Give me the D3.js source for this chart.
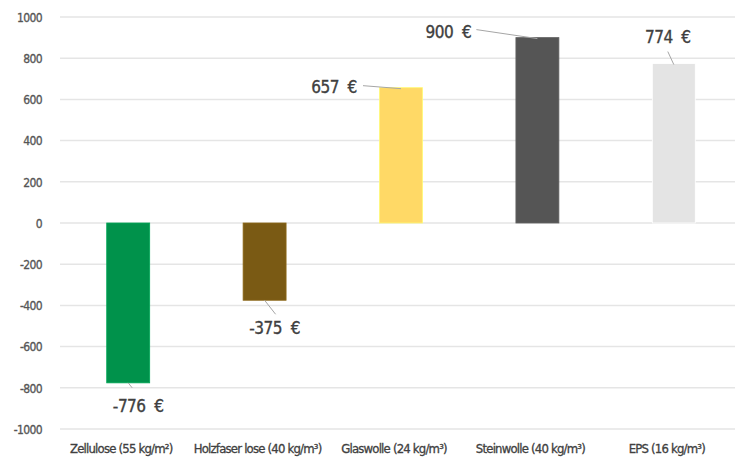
<!DOCTYPE html>
<html><head><meta charset="utf-8">
<script src="https://cdn.jsdelivr.net/npm/d3@7"></script>
<style>
html,body{margin:0;padding:0;background:#fff;}
svg text{font-family:"DejaVu Sans Condensed","DejaVu Sans",sans-serif !important;font-stretch:condensed;}
</style></head>
<body><svg id="c" width="741" height="459"></svg>
<script>
const categories = ["Zellulose (55 kg/m²)", "Holzfaser lose (40 kg/m³)", "Glaswolle (24 kg/m³)", "Steinwolle (40 kg/m³)", "EPS (16 kg/m³)"];
const values = [-776, -375, 657, 900, 774];
const colors = ["#00924B", "#7A5A14", "#FFD966", "#555555", "#E4E4E4"];
const yTicks = [1000, 800, 600, 400, 200, 0, -200, -400, -600, -800, -1000];

const fmt = v => String(v);
const svg = d3.select("#c");
const x = d3.scaleBand().domain(categories).range([60, 742]).paddingInner(0.685).paddingOuter(0.3425);
const y = d3.scaleLinear().domain([-1000, 1000]).range([429, 17]);

// gridlines
svg.append("g").selectAll("line").data(yTicks).join("line")
  .attr("x1", 60).attr("x2", 735)
  .attr("y1", d => y(d)).attr("y2", d => y(d))
  .attr("stroke", "#e5e5e5").attr("stroke-width", 1.5);

// y axis labels
const yAxis = d3.axisLeft(y).tickValues(yTicks).tickFormat(fmt).tickSize(0).tickPadding(0);
const ga = svg.append("g").attr("transform", "translate(42,0)").call(yAxis);
ga.select(".domain").remove();
ga.selectAll("text").attr("font-size", 12).attr("fill", "#555").attr("dy", "0.35em").attr("letter-spacing", -0.6)
  .attr("stroke", "#555").attr("stroke-width", 0.3);

// bars
svg.append("g").selectAll("rect").data(values).join("rect")
  .attr("x", (d, i) => x(categories[i]))
  .attr("width", x.bandwidth())
  .attr("y", d => Math.min(y(d), y(0)))
  .attr("height", d => Math.abs(y(d) - y(0)))
  .attr("fill", (d, i) => colors[i])
  .attr("stroke", (d, i) => d3.color(colors[i]).brighter(0.4))
  .attr("stroke-width", 0.8);

// value label layout (offsets relative to bar center / end)
const lab = [
  {dx: 10, dy: 29, lx1: 0, ly1: 0, lx2: 4, ly2: 5},
  {dx: 10, dy: 34, lx1: 0, ly1: 0, lx2: 11, ly2: 14},
  {dx: -67, dy: 5, lx1: 0, ly1: 1, lx2: -38, ly2: -2},
  {dx: -89, dy: 0, lx1: 0, ly1: 1, lx2: -61, ly2: -8},
  {dx: -6, dy: -21, lx1: 0, ly1: 1, lx2: -6, ly2: -12}
];
const gl = svg.append("g");
values.forEach((v, i) => {
  const cx = x(categories[i]) + x.bandwidth() / 2;
  const ey = y(v);
  const o = lab[i];
  gl.append("line")
    .attr("x1", cx + o.lx1).attr("y1", ey + o.ly1)
    .attr("x2", cx + o.lx2).attr("y2", ey + o.ly2)
    .attr("stroke", "#a6a6a6").attr("stroke-width", 1);
  gl.append("text")
    .attr("x", cx + o.dx).attr("y", ey + o.dy)
    .attr("text-anchor", "middle")
    .attr("font-size", 17).attr("fill", "#404040")
    .attr("stroke", "#404040").attr("stroke-width", 0.35)
    .attr("letter-spacing", -0.5)
    .attr("xml:space", "preserve")
    .text(fmt(v) + "  €");
});

// category labels
const xAxis = d3.axisBottom(x).tickSize(0).tickPadding(0);
const gx = svg.append("g").attr("transform", "translate(-7,448)").call(xAxis);
gx.select(".domain").remove();
gx.selectAll("text").attr("font-size", 13).attr("fill", "#404040").attr("dy", "0.35em").attr("letter-spacing", -0.8)
  .attr("stroke", "#404040").attr("stroke-width", 0.3);
</script></body></html>
